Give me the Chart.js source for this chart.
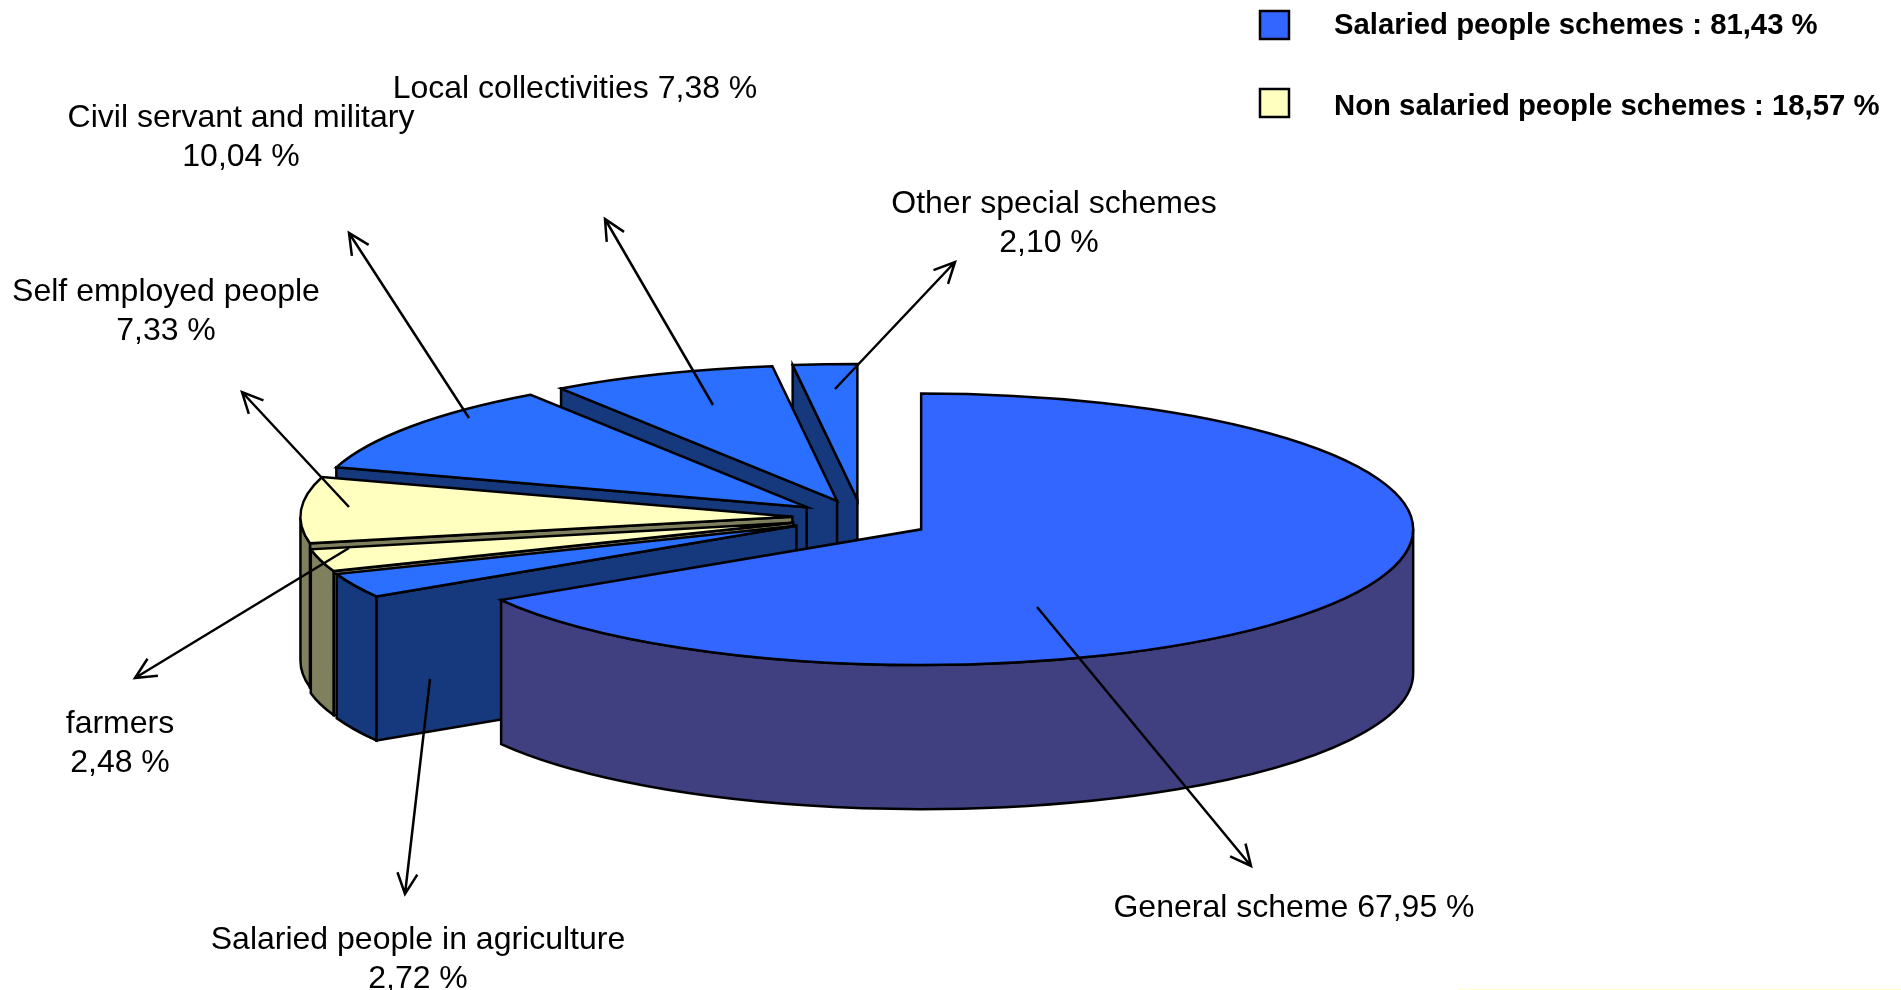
<!DOCTYPE html>
<html>
<head>
<meta charset="utf-8">
<title>Schemes</title>
<script src="https://cdn.jsdelivr.net/npm/chart.js@4"></script>
<style>
  html, body { margin: 0; background: #fff; }
  canvas { display: block; }
</style>
</head>
<body>
<canvas id="pieChart" width="1901" height="990"></canvas>
<script>
// data, clockwise from 12 o'clock
const categories = [
  "General scheme",
  "Salaried people in agriculture",
  "farmers",
  "Self employed people",
  "Civil servant and military",
  "Local collectivities",
  "Other special schemes",
];
const shares = [67.95, 2.72, 2.48, 7.33, 10.04, 7.38, 2.1];
const groupNames = ["Salaried people schemes", "Non salaried people schemes"];
const groupShares = [81.43, 18.57];

// colours
const topColors = ["#3366ff", "#2a6fff", "#ffffc0", "#ffffc0", "#2a6fff", "#2a6fff", "#2a6fff"];
const wallColors = ["#403f80", "#16387c", "#80805f", "#80805f", "#16387c", "#16387c", "#16387c"];
const groupColors = ["#3366ff", "#ffffc0"];

// 3D look of the pie
const CENTER_X = 862;
const CENTER_Y = 519;
const RADIUS = 492;
const TILT = 0.276;
const DEPTH = 144;
const EXPLODE = 70;
const FONT = '"Liberation Sans", Arial, sans-serif';

// label placement: [centre x, first line y, line wrapped?, second line x shift]
const labelSpots = [
  [1294, 908, false, 0],
  [418, 940, true, 0],
  [120, 724, true, 0],
  [166, 292, true, 0],
  [241, 118, true, 0],
  [575, 89, false, 0],
  [1054, 204, true, -5],
];
// leader arrows, [from x, from y, to x, to y]
const arrows = [
  [1037, 607, 1251, 866],
  [430, 679, 405, 894],
  [349, 548, 135, 678],
  [349, 507, 242, 392],
  [469, 418, 349, 233],
  [713, 405, 605, 219],
  [835, 389, 955, 262],
];

const fmt = (v) => v.toFixed(2).replace(".", ",") + " %";

// the reference's 3D view pulls the lower left rim towards the front,
// up to 6 degrees, fading out on the upper left
function viewAngle(angle) {
  if (angle <= 0) return angle;
  const from = (154.6 * Math.PI) / 180;
  const to = (235.9 * Math.PI) / 180;
  const t = Math.min(Math.max((to - angle) / (to - from), 0), 1);
  return angle - t * ((6 * Math.PI) / 180);
}

function sliceCenter(arc) {
  const mid = (arc.startAngle + arc.endAngle) / 2;
  return {
    x: CENTER_X + EXPLODE * Math.cos(mid),
    y: CENTER_Y + EXPLODE * Math.sin(mid) * TILT,
  };
}

function rimPoint(c, angle) {
  return {
    x: c.x + RADIUS * Math.cos(angle),
    y: c.y + RADIUS * Math.sin(angle) * TILT,
  };
}

// the flat cut side of a slice, from apex to rim and down
function drawCutFace(ctx, c, angle, color) {
  const p = rimPoint(c, angle);
  ctx.beginPath();
  ctx.moveTo(c.x, c.y);
  ctx.lineTo(p.x, p.y);
  ctx.lineTo(p.x, p.y + DEPTH);
  ctx.lineTo(c.x, c.y + DEPTH);
  ctx.closePath();
  ctx.fillStyle = color;
  ctx.fill();
  ctx.stroke();
}

// rim wall, only the front half (0..PI) can be seen
function drawRimWall(ctx, c, start, end, color) {
  const turn = Math.PI * 2;
  for (const k of [-1, 0, 1]) {
    const a0 = Math.max(start, k * turn);
    const a1 = Math.min(end, k * turn + Math.PI);
    if (a1 <= a0) continue;
    ctx.beginPath();
    ctx.ellipse(c.x, c.y, RADIUS, RADIUS * TILT, 0, a0, a1);
    ctx.ellipse(c.x, c.y + DEPTH, RADIUS, RADIUS * TILT, 0, a1, a0, true);
    ctx.closePath();
    ctx.fillStyle = color;
    ctx.fill();
    ctx.stroke();
  }
}

const pie3d = {
  id: "pie3d",
  beforeDatasetsDraw(chart) {
    const ctx = chart.ctx;
    const arcs = chart.getDatasetMeta(0).data;
    ctx.save();
    ctx.lineWidth = 2.5;
    ctx.strokeStyle = "#000";
    ctx.lineJoin = "miter";
    // paint from the back slices to the front one
    for (let i = arcs.length - 1; i >= 0; i--) {
      const arc = arcs[i];
      const c = sliceCenter(arc);
      const start = viewAngle(arc.startAngle);
      const end = viewAngle(arc.endAngle);

      if (Math.cos(start) < 0) drawCutFace(ctx, c, start, wallColors[i]);
      if (Math.cos(end) > 0) drawCutFace(ctx, c, end, wallColors[i]);
      drawRimWall(ctx, c, start, end, wallColors[i]);

      ctx.beginPath();
      ctx.moveTo(c.x, c.y);
      ctx.ellipse(c.x, c.y, RADIUS, RADIUS * TILT, 0, start, end);
      ctx.closePath();
      ctx.fillStyle = arc.options.backgroundColor;
      ctx.fill();
      ctx.stroke();
    }
    ctx.restore();
    return false;
  },
  afterDraw(chart) {
    const ctx = chart.ctx;
    ctx.save();

    // leader arrows
    ctx.strokeStyle = "#000";
    ctx.lineWidth = 2.5;
    arrows.forEach(([x0, y0, x1, y1]) => {
      const a = Math.atan2(y1 - y0, x1 - x0);
      ctx.beginPath();
      ctx.moveTo(x0, y0);
      ctx.lineTo(x1, y1);
      ctx.moveTo(x1 - 23 * Math.cos(a - 0.45), y1 - 23 * Math.sin(a - 0.45));
      ctx.lineTo(x1, y1);
      ctx.lineTo(x1 - 23 * Math.cos(a + 0.45), y1 - 23 * Math.sin(a + 0.45));
      ctx.stroke();
    });

    // slice labels
    ctx.fillStyle = "#000";
    ctx.font = "32px " + FONT;
    ctx.textAlign = "center";
    ctx.textBaseline = "middle";
    categories.forEach((name, i) => {
      const [x, y, wrapped, shift] = labelSpots[i];
      if (wrapped) {
        ctx.fillText(name, x, y);
        ctx.fillText(fmt(shares[i]), x + shift, y + 39);
      } else {
        ctx.fillText(name + " " + fmt(shares[i]), x, y);
      }
    });

    // group legend
    ctx.font = "bold 29.3px " + FONT;
    ctx.textAlign = "left";
    groupNames.forEach((name, i) => {
      const y = i === 0 ? 25 : 103;
      ctx.fillStyle = groupColors[i];
      ctx.fillRect(1260, y - 14, 29, 28);
      ctx.strokeStyle = "#000";
      ctx.lineWidth = 2.5;
      ctx.strokeRect(1260, y - 14, 29, 28);
      ctx.fillStyle = "#000";
      ctx.fillText(name + " : " + fmt(groupShares[i]), 1334, i === 0 ? 26 : 107);
    });

    // faint line along the bottom edge
    ctx.strokeStyle = "#ffffcc";
    ctx.lineWidth = 1;
    ctx.beginPath();
    ctx.moveTo(1458, 989.5);
    ctx.lineTo(1901, 989.5);
    ctx.stroke();
    ctx.restore();
  },
};

new Chart(document.getElementById("pieChart"), {
  type: "pie",
  data: {
    labels: categories,
    datasets: [
      {
        data: shares,
        backgroundColor: topColors,
        borderWidth: 0,
        radius: RADIUS,
      },
    ],
  },
  options: {
    responsive: false,
    animation: false,
    layout: { padding: 0 },
    plugins: {
      legend: { display: false },
      tooltip: { enabled: false },
    },
  },
  plugins: [pie3d],
});
</script>
</body>
</html>
